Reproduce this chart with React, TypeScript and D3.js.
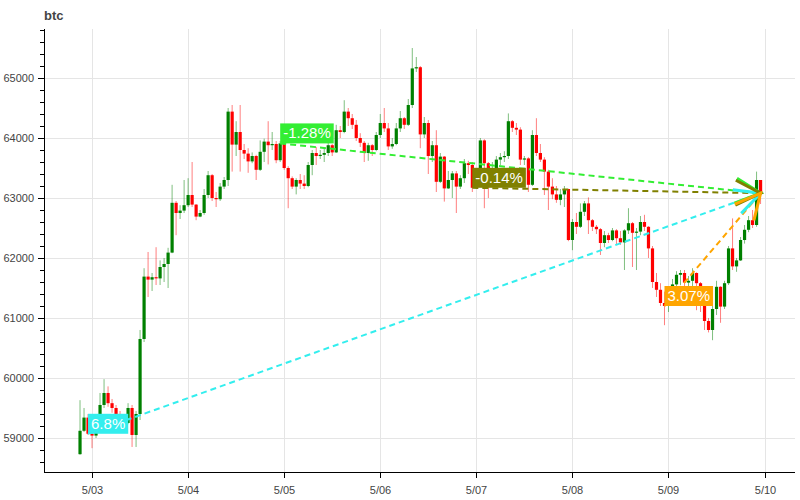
import React, { useEffect, useRef } from "react";
import * as d3 from "d3";

const startTime = new Date(2024, 4, 2, 21, 0, 0);
const firstOpen = 58730;

const closes = [
  59120, 59340, 59070, 59040, 59300, 59550, 59750, 59580, 59500, 59400,
  59320, 59250, 59500, 59050, 59400, 60650, 61690, 61640, 61680, 61660,
  61850, 61900, 62090, 62920, 62750, 62790, 62880, 63050, 62890, 62690,
  62750, 63050, 63380, 63000, 62980, 63190, 63300, 64440, 63890, 64100,
  63800, 63740, 63610, 63700, 63470, 63770, 63940, 63880, 63900, 63630,
  63910, 63500, 63330, 63190, 63300, 63240, 63200, 63550, 63750, 63700,
  63720, 63750, 63880, 63760, 64130, 64100, 64440, 64330, 64220, 64000,
  63920, 63750, 63880, 63800, 64050, 64250, 64160, 63860, 63900, 64160,
  64330, 64220, 64550, 65160, 65180, 64060, 64250, 63700, 63880, 63270,
  63690, 63160, 63300, 63410, 63190, 63330, 63580, 63550, 63170, 63400,
  63960, 63580, 63400, 63500, 63640, 63680, 63700, 64280, 64170, 64140,
  63640, 63660, 63220, 64050, 63750, 63640, 63440, 63190, 63060, 62970,
  63060, 63150, 62300, 62600, 62520, 62770, 62910, 62630, 62520, 62480,
  62250, 62380, 62300, 62460, 62330, 62260, 62460, 62580, 62420, 62440,
  62600, 62520, 62160, 61600, 61470, 61250, 61200, 61350, 61560, 61720,
  61750, 61590, 61620, 61750, 61580, 61220, 60950, 60800, 61150, 61520,
  61190, 61580, 62160, 61860, 61960, 62300, 62470, 62630, 62550, 63300,
  63080,
];

const highs = [
  59630, 59500, 59400, 59300, 59380, 59750, 59980, 59860, 59650, 59550,
  59450, 59380, 59580, 59550, 59450, 60800, 61830, 62100, 61750, 62180,
  61960, 62000, 62170, 63220, 62950, 62880, 63300, 63330, 63600, 62900,
  62800, 63150, 63450, 63400, 63100, 63250, 63350, 64500, 64550, 64280,
  64550, 63900, 63830, 63760, 63720, 63960, 63990, 64280, 64100, 63950,
  63950, 63900, 63530, 63360, 63330, 63400, 63380, 63600, 63800, 63850,
  63800, 63830, 63950, 63900, 64220, 64200, 64630, 64500, 64400, 64300,
  64080, 63950, 63920, 63900, 64100, 64400, 64500, 64250, 64000, 64250,
  64450, 64350, 64650, 65500, 65350, 65200, 64350, 64300, 63950, 64130,
  63750, 63700, 63450, 63450, 63450, 63380, 63650, 63620, 63600, 63500,
  64000, 63980, 63600, 63600, 63700, 63750, 63780, 64410, 64300, 64250,
  64180, 63700, 63680, 64130, 64330, 63900, 63680, 63470, 63330, 63200,
  63150, 63200, 63150, 62650, 62750, 62910, 62950, 63010, 62650, 62550,
  62500, 62450, 62420, 62500, 62480, 62450, 62480, 62830, 62600, 62500,
  62700, 62720, 62530, 62200, 61750, 61580, 61440, 61400, 61650, 61780,
  61800, 61800, 61700, 61830, 61760, 61600, 61250, 61000, 61200, 61620,
  61530, 61620, 62200, 62660, 62000, 62350, 62550, 62700, 62800, 63440,
  63300,
];

const lows = [
  58720, 59100, 59050, 58830, 59000, 59250, 59500, 59520, 59420, 59330,
  59200, 59150, 59230, 58850, 58850, 59300, 60600, 61350, 61450, 61550,
  61550, 61600, 61500, 62080, 62380, 62650, 62750, 62850, 62850, 62630,
  62680, 62720, 63000, 62950, 62850, 62950, 63150, 63200, 63440, 63700,
  63440, 63650, 63420, 63580, 63300, 63450, 63600, 63560, 63800, 63580,
  63600, 63470, 62830, 63150, 63060, 63150, 63150, 63180, 63380, 63550,
  63650, 63600, 63700, 63700, 63750, 64000, 64080, 64200, 64150, 63950,
  63850, 63600, 63620, 63700, 63780, 64000, 64100, 63800, 63820, 63880,
  64100, 64150, 64200, 64500, 65100, 63830, 64000, 63400, 63600, 63100,
  63250, 62940, 63150, 63000, 62750, 63150, 63250, 63400, 63100, 63150,
  63350, 62830, 63000, 63300, 63450, 63550, 63600, 63650, 64100, 64050,
  63550, 63550, 63100, 63200, 63700, 63600, 63050, 62800, 62980, 62920,
  62880, 62850, 62280, 62130, 62400, 62500, 62700, 62400, 62450, 62400,
  62050, 62180, 62250, 62280, 62220, 62220, 61800, 62400, 61850, 61800,
  62380, 62450, 62000, 61500, 61350, 61200, 60880, 61100, 61300, 61500,
  61550, 61500, 61450, 61500, 61130, 61100, 60800, 60760, 60630, 61050,
  60920, 61150, 61550, 61800, 61770, 61950, 62240, 62430, 62500, 62520,
  62900,
];

// reference lines: start candle index, label, colour
const refStarts = [2, 50, 98, 146];
const refLabels = ["6.8%", "-1.28%", "-0.14%", "3.07%"];
const refColors = ["#33eeee", "#33ee33", "#808000", "#ffa500"];

const yTicks = [59000, 60000, 61000, 62000, 63000, 64000, 65000];
const xTickLabels = ["5/03", "5/04", "5/05", "5/06", "5/07", "5/08", "5/09", "5/10"];

const W = 800;
const H = 500;
const left = 44;
const right = 795;
const top = 29;
const bottom = 472;

export default function App() {
  const ref = useRef<SVGSVGElement | null>(null);

  useEffect(() => {
    const svg = d3.select(ref.current);
    svg.selectAll("*").remove();

    const hour = 3600 * 1000;
    const data = closes.map((c, i) => {
      const o = i === 0 ? firstOpen : closes[i - 1];
      return {
        t: new Date(startTime.getTime() + i * hour),
        o,
        c,
        h: Math.max(highs[i], o, c),
        l: Math.min(lows[i], o, c),
      };
    });

    const x = d3
      .scaleTime()
      .domain([new Date(2024, 4, 2, 12, 0), new Date(2024, 4, 10, 7, 36)])
      .range([left, right]);
    const y = d3.scaleLinear().domain([58433, 65817]).range([bottom, top]);

    const font = "'Liberation Sans', Arial, Helvetica, sans-serif";

    // grid
    const days = xTickLabels.map((_, i) => new Date(2024, 4, 3 + i));
    const g = svg.append("g");
    g.selectAll("line.vg")
      .data(days)
      .join("line")
      .attr("x1", (d) => Math.round(x(d)) + 0.5)
      .attr("x2", (d) => Math.round(x(d)) + 0.5)
      .attr("y1", top)
      .attr("y2", bottom)
      .attr("stroke", "#e5e5e5");
    g.selectAll("line.hg")
      .data(yTicks)
      .join("line")
      .attr("x1", left)
      .attr("x2", right)
      .attr("y1", (d) => Math.round(y(d)) + 0.5)
      .attr("y2", (d) => Math.round(y(d)) + 0.5)
      .attr("stroke", "#e5e5e5");

    // candles
    const cg = svg.append("g");
    const up = "#008000";
    const dn = "#ff0000";
    cg.selectAll("line.wick")
      .data(data)
      .join("line")
      .attr("x1", (d) => x(d.t))
      .attr("x2", (d) => x(d.t))
      .attr("y1", (d) => y(d.h))
      .attr("y2", (d) => y(d.l))
      .attr("stroke", (d) => (d.c >= d.o ? up : dn))
      .attr("stroke-opacity", 0.5)
      .attr("stroke-width", 1);
    cg.selectAll("rect.body")
      .data(data)
      .join("rect")
      .attr("x", (d) => x(d.t) - 1.6)
      .attr("width", 3.2)
      .attr("y", (d) => y(Math.max(d.o, d.c)))
      .attr("height", (d) => Math.max(1, Math.abs(y(d.o) - y(d.c))))
      .attr("fill", (d) => (d.c >= d.o ? up : dn));

    // reference lines
    const last = data[data.length - 1];
    const ex = x(last.t);
    const ey = y(last.c);
    const lg = svg.append("g");
    refStarts.forEach((si, k) => {
      const s = data[si];
      lg.append("line")
        .attr("x1", x(s.t))
        .attr("y1", y(s.c))
        .attr("x2", ex)
        .attr("y2", ey)
        .attr("stroke", refColors[k])
        .attr("stroke-width", 2)
        .attr("stroke-dasharray", "6,4");
    });
    // labels
    refStarts.forEach((si, k) => {
      const s = data[si];
      const lx = x(s.t);
      const ly = y(s.c);
      const grp = lg.append("g");
      const rect = grp.append("rect").attr("fill", refColors[k]);
      const txt = grp
        .append("text")
        .attr("x", lx + 3)
        .attr("y", ly - 5)
        .attr("fill", "#ffffff")
        .attr("font-family", font)
        .attr("font-size", 15)
        .text(refLabels[k]);
      const bb = (txt.node() as SVGTextElement).getBBox();
      rect
        .attr("x", lx)
        .attr("y", ly - 20)
        .attr("width", bb.width + 6)
        .attr("height", 20);
    });
    // arrow heads
    refStarts.forEach((si, k) => {
      const s = data[si];
      const sx = x(s.t);
      const sy = y(s.c);
      const ang = Math.atan2(ey - sy, ex - sx);
      const size = 25;
      const pts: [number, number][] = [];
      [-1, 1].forEach((sg) => {
        const bx = ex - size * Math.cos(ang) + sg * (size / 2) * Math.sin(ang);
        const by = ey - size * Math.sin(ang) - sg * (size / 2) * Math.cos(ang);
        pts.push([bx, by]);
      });
      lg.append("path")
        .attr("d", `M${pts[0][0]},${pts[0][1]}L${ex},${ey}L${pts[1][0]},${pts[1][1]}`)
        .attr("fill", "none")
        .attr("stroke", refColors[k])
        .attr("stroke-width", 3);
    });

    // axes
    const ag = svg.append("g");
    ag.append("line")
      .attr("x1", left)
      .attr("x2", right)
      .attr("y1", bottom + 0.5)
      .attr("y2", bottom + 0.5)
      .attr("stroke", "#000");
    ag.append("line")
      .attr("x1", left + 0.5)
      .attr("x2", left + 0.5)
      .attr("y1", top)
      .attr("y2", bottom)
      .attr("stroke", "#000");
    days.forEach((d, i) => {
      const px = Math.round(x(d)) + 0.5;
      ag.append("line")
        .attr("x1", px)
        .attr("x2", px)
        .attr("y1", bottom)
        .attr("y2", bottom + 6)
        .attr("stroke", "#000");
      ag.append("text")
        .attr("x", px)
        .attr("y", bottom + 22)
        .attr("text-anchor", "middle")
        .attr("font-family", font)
        .attr("font-size", 11)
        .attr("fill", "#444")
        .text(xTickLabels[i]);
    });
    const minor = d3.range(58600, 65801, 200);
    minor.forEach((v) => {
      const py = Math.round(y(v)) + 0.5;
      const major = v % 1000 === 0;
      ag.append("line")
        .attr("x1", left - (major ? 6 : 4))
        .attr("x2", left)
        .attr("y1", py)
        .attr("y2", py)
        .attr("stroke", "#000");
    });
    yTicks.forEach((v) => {
      ag.append("text")
        .attr("x", left - 10)
        .attr("y", y(v) + 4)
        .attr("text-anchor", "end")
        .attr("font-family", font)
        .attr("font-size", 11)
        .attr("fill", "#444")
        .text(String(v));
    });

    svg.append("text")
      .attr("x", left)
      .attr("y", 20)
      .attr("font-family", font)
      .attr("font-size", 13)
      .attr("font-weight", "bold")
      .attr("fill", "#444")
      .text("btc");
  }, []);

  return (
    <svg
      ref={ref}
      width={W}
      height={H}
      style={{ position: "absolute", left: 0, top: 0, background: "#fff" }}
    />
  );
}
